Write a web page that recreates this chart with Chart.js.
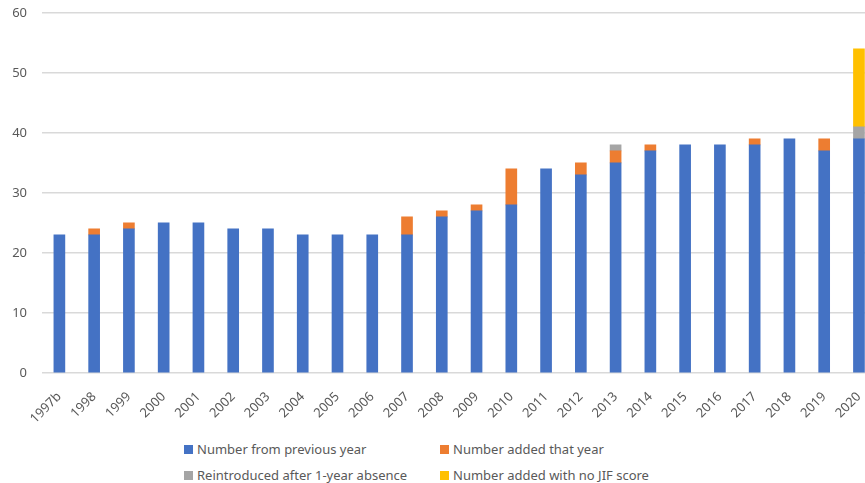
<!DOCTYPE html>
<html>
<head>
<meta charset="utf-8">
<script src="https://cdn.jsdelivr.net/npm/chart.js@4"></script>
<style>
  html, body { margin: 0; padding: 0; background: #fff; overflow: hidden; }
  #wrap { position: relative; width: 878px; height: 483px; }
  #chartBox { position: absolute; left: 0; top: -10px; width: 878px; height: 450px; }
  #legend { position: absolute; left: 0; top: 0; }
  .item { position: absolute; display: flex; align-items: center; font-family: "Noto Sans", sans-serif; font-size: 13px; color: #595959; white-space: nowrap; }
  .item span.box { width: 9px; height: 9px; margin-right: 4px; display: inline-block; }
</style>
</head>
<body>
<div id="wrap">
  <div id="chartBox"><canvas id="jifChart"></canvas></div>
  <div id="legend"></div>
</div>
<script>
var years = ['1997b','1998','1999','2000','2001','2002','2003','2004','2005','2006','2007','2008',
             '2009','2010','2011','2012','2013','2014','2015','2016','2017','2018','2019','2020'];
var fromPrevious = [23,23,24,25,25,24,24,23,23,23,23,26,27,28,34,33,35,37,38,38,38,39,37,39];
var addedThatYear = [0,1,1,0,0,0,0,0,0,0,3,1,1,6,0,2,2,1,0,0,1,0,2,0];
var reintroduced = [0,0,0,0,0,0,0,0,0,0,0,0,0,0,0,0,1,0,0,0,0,0,0,2];
var noJifScore = [0,0,0,0,0,0,0,0,0,0,0,0,0,0,0,0,0,0,0,0,0,0,0,13];
var seriesNames = ['Number from previous year','Number added that year','Reintroduced after 1-year absence','Number added with no JIF score'];
var seriesColors = ['#4472C4','#ED7D31','#A5A5A5','#FFC000'];

window.addEventListener("load", () => {
    var tickFont = { family: 'Noto Sans', size: 13 };
    var allData = [fromPrevious, addedThatYear, reintroduced, noJifScore];
    var datasets = allData.map((d, i) => ({
        label: seriesNames[i],
        data: d.map(v => v === 0 ? null : v),  // no sliver for empty segments
        backgroundColor: seriesColors[i],
        barThickness: 11,
    }));

    var ctx = document.getElementById('jifChart').getContext('2d');
    var jifChart = new Chart(ctx, {
        type: 'bar',
        data: { labels: years, datasets: datasets },
        options: {
            responsive: true,
            maintainAspectRatio: false,
            animation: false,
            layout: { padding: { top: 5, right: 1, left: 0, bottom: 0 } },
            plugins: { legend: { display: false }, tooltip: { enabled: false } },
            scales: {
                x: {
                    stacked: true,
                    grid: { display: false },
                    border: { display: false },
                    ticks: { color: '#595959', font: tickFont, minRotation: 45, maxRotation: 45, padding: 8 },
                    afterFit: (scale) => { scale.height = 67; }
                },
                y: {
                    stacked: true,
                    min: 0,
                    max: 60,
                    grid: { color: '#D9D9D9', lineWidth: 1.5, drawTicks: false },
                    border: { display: false },
                    ticks: { stepSize: 10, color: '#595959', font: tickFont, padding: 15 },
                    afterFit: (scale) => { scale.width = 42; }
                }
            }
        }
    });

    // legend in two columns like the original
    var legend = document.getElementById('legend');
    var spots = [[184, 440], [440, 440], [184, 466], [440, 466]];
    seriesNames.forEach((name, i) => {
        var el = document.createElement('div');
        el.className = 'item';
        el.style.left = spots[i][0] + 'px';
        el.style.top = spots[i][1] + 'px';
        el.innerHTML = '<span class="box" style="background:' + seriesColors[i] + '"></span>' + name;
        legend.appendChild(el);
    });
});
</script>
</body>
</html>
